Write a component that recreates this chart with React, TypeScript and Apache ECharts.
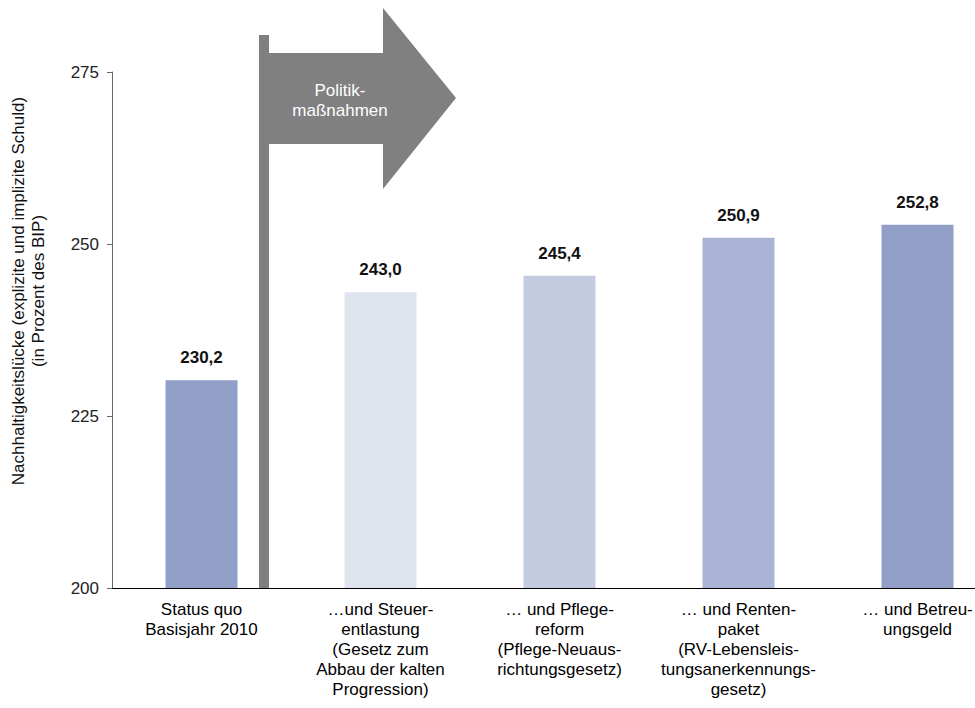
import { useEffect, useRef } from "react";
import * as echarts from "echarts";

const categories = [
  "Status quo\nBasisjahr 2010",
  "…und Steuer-\nentlastung\n(Gesetz zum\nAbbau der kalten\nProgression)",
  "… und Pflege-\nreform\n(Pflege-Neuaus-\nrichtungsgesetz)",
  "… und Renten-\npaket\n(RV-Lebensleis-\ntungsanerkennungs-\ngesetz)",
  "… und Betreu-\nungsgeld",
];
const values = [230.2, 243.0, 245.4, 250.9, 252.8];
const barColors = ["#919fc7", "#dfe3ee", "#c3cbe0", "#aab5d5", "#919fc7"];
const yTicks = { min: 200, max: 275, interval: 25 };
const yName = ["Nachhaltigkeitslücke (explizite und implizite Schuld)", "(in Prozent des BIP)"];
const arrowText = "Politik-\nmaßnahmen";

const FONT = "'Liberation Sans', Arial, Helvetica, sans-serif";

export default function App() {
  const ref = useRef<HTMLDivElement>(null);

  useEffect(() => {
    if (!ref.current) return;
    const chart = echarts.init(ref.current, null, { renderer: "svg" });
    const option: echarts.EChartsOption = {
      animation: false,
      backgroundColor: "#ffffff",
      textStyle: { fontFamily: FONT },
      // the plot runs past the right edge of the picture, as in the original
      grid: { left: 112, top: 72, width: 895, height: 516, containLabel: false },
      xAxis: {
        type: "category",
        data: categories,
        axisLine: { show: true, lineStyle: { color: "#000", width: 1 } },
        axisTick: { show: false },
        axisLabel: {
          interval: 0,
          margin: 11,
          fontSize: 17,
          lineHeight: 20,
          color: "#000",
          fontFamily: FONT,
          align: "center",
        },
      },
      yAxis: {
        type: "value",
        min: yTicks.min,
        max: yTicks.max,
        interval: yTicks.interval,
        splitLine: { show: false },
        axisLine: { show: true, lineStyle: { color: "#666", width: 1 } },
        axisTick: { show: true, length: 5, lineStyle: { color: "#666" } },
        axisLabel: { fontSize: 17, color: "#222", margin: 13, fontFamily: FONT },
      },
      series: [
        {
          type: "bar",
          barWidth: 72,
          data: values.map((v, i) => ({ value: v, itemStyle: { color: barColors[i] } })),
          label: {
            show: true,
            position: "top",
            distance: 14,
            fontSize: 17,
            fontWeight: "bold",
            color: "#111",
            fontFamily: FONT,
            formatter: (p: any) => p.value.toFixed(1).replace(".", ","),
          },
        },
      ],
      graphic: [
        {
          type: "rect",
          shape: { x: 259, y: 35, width: 10, height: 553 },
          style: { fill: "#808080" },
          z: 10,
        },
        {
          type: "polygon",
          shape: {
            points: [
              [269, 53],
              [383, 53],
              [383, 8],
              [456, 98],
              [383, 189],
              [383, 144],
              [269, 144],
            ],
          },
          style: { fill: "#808080" },
          z: 10,
        },
        {
          type: "text",
          x: 340,
          y: 100,
          style: {
            text: arrowText,
            fill: "#fff",
            fontSize: 17,
            lineHeight: 20,
            fontFamily: FONT,
            align: "center",
            verticalAlign: "middle",
          },
          z: 11,
        },
        {
          type: "text",
          x: 18,
          y: 291,
          rotation: Math.PI / 2,
          style: {
            text: yName[0],
            fill: "#111",
            fontSize: 17,
            fontFamily: FONT,
            align: "center",
            verticalAlign: "middle",
          },
        },
        {
          type: "text",
          x: 38,
          y: 291,
          rotation: Math.PI / 2,
          style: {
            text: yName[1],
            fill: "#111",
            fontSize: 17,
            fontFamily: FONT,
            align: "center",
            verticalAlign: "middle",
          },
        },
      ],
    };
    chart.setOption(option);
    return () => chart.dispose();
  }, []);

  return (
    <div style={{ position: "absolute", left: 0, top: 0, width: 975, height: 708, overflow: "hidden" }}>
      <div ref={ref} style={{ width: 1010, height: 708 }} />
    </div>
  );
}
